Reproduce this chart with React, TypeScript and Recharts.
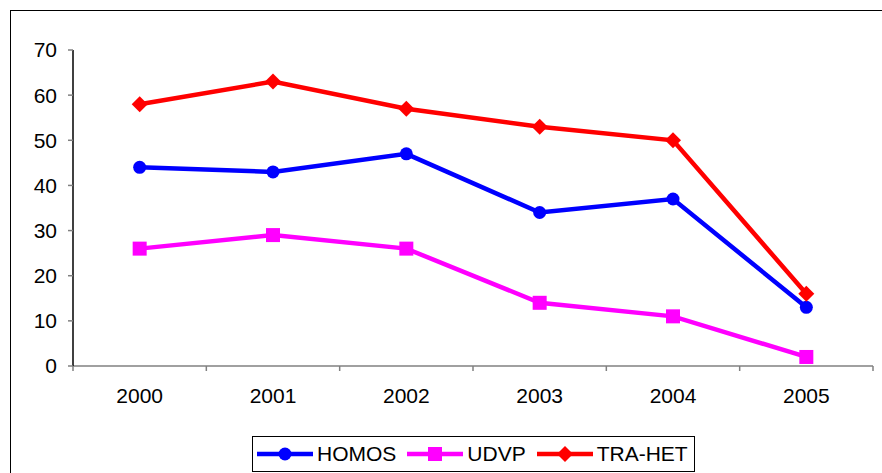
import { LineChart, Line, XAxis, YAxis } from 'recharts';

const years = ['2000', '2001', '2002', '2003', '2004', '2005'];
const homos = [44, 43, 47, 34, 37, 13];
const udvp = [26, 29, 26, 14, 11, 2];
const traHet = [58, 63, 57, 53, 50, 16];
const yTicks = [0, 10, 20, 30, 40, 50, 60, 70];

const data = years.map((y, i) => ({ year: y, homos: homos[i], udvp: udvp[i], traHet: traHet[i] }));

const FONT = 'Liberation Sans, Arial, sans-serif';

function CircleDot(props: any) {
  const { cx, cy, stroke } = props;
  if (cx == null || cy == null) return null;
  return <circle cx={cx} cy={cy} r={6.5} fill={stroke} stroke="none" />;
}

function SquareDot(props: any) {
  const { cx, cy, stroke } = props;
  if (cx == null || cy == null) return null;
  return <rect x={cx - 7} y={cy - 7} width={14} height={14} fill={stroke} />;
}

function DiamondDot(props: any) {
  const { cx, cy, stroke } = props;
  if (cx == null || cy == null) return null;
  const s = 8;
  return <polygon points={`${cx},${cy - s} ${cx + s},${cy} ${cx},${cy + s} ${cx - s},${cy}`} fill={stroke} />;
}

const series = [
  { key: 'homos', name: 'HOMOS', color: '#0000ff', Dot: CircleDot },
  { key: 'udvp', name: 'UDVP', color: '#ff00ff', Dot: SquareDot },
  { key: 'traHet', name: 'TRA-HET', color: '#ff0000', Dot: DiamondDot },
];

// category label plus tick marks on the band edges (Excel style)
function YearTick(props: any) {
  const { x, y, payload, index } = props;
  const half = payload?.offset || 800 / 12;
  const axisY = y - 8;
  const last = index === years.length - 1;
  return (
    <g>
      <line x1={x - half} y1={axisY} x2={x - half} y2={axisY + 5} stroke="#808080" strokeWidth={1.5} />
      {last && <line x1={x + half} y1={axisY} x2={x + half} y2={axisY + 5} stroke="#808080" strokeWidth={1.5} />}
      <text x={x} y={y + 14} dy="0.71em" textAnchor="middle" fill="#000" fontSize={21} fontFamily={FONT}>
        {payload.value}
      </text>
    </g>
  );
}

function LegendBox() {
  return (
    <div
      style={{
        position: 'absolute',
        left: 252,
        top: 436,
        display: 'flex',
        alignItems: 'center',
        border: '1.5px solid #000',
        height: 36,
        width: 443,
        boxSizing: 'border-box',
        padding: '0 0 0 4px',
        fontFamily: FONT,
        fontSize: 21,
        color: '#000',
        background: '#fff',
        whiteSpace: 'nowrap',
      }}
    >
      {series.map(s => (
        <div key={s.key} style={{ display: 'flex', alignItems: 'center', marginRight: 11 }}>
          <svg width={57} height={18}>
            <line x1={0} y1={9} x2={56} y2={9} stroke={s.color} strokeWidth={4.5} />
            <s.Dot cx={28} cy={9} stroke={s.color} />
          </svg>
          <span style={{ marginLeft: 3 }}>{s.name}</span>
        </div>
      ))}
    </div>
  );
}

export default function App() {
  return (
    <div style={{ position: 'absolute', left: 0, top: 0, width: 882, height: 473, background: '#fff', overflow: 'hidden' }}>
      <div
        style={{
          position: 'absolute',
          left: 10,
          top: 10,
          width: 900,
          height: 500,
          border: '1.5px solid #000',
          boxSizing: 'border-box',
        }}
      />
      <LineChart
        width={882}
        height={473}
        data={data}
        margin={{ top: 50, right: 9, left: 10, bottom: 77 }}
        style={{ position: 'absolute', left: 0, top: 0 }}
      >
        <XAxis
          dataKey="year"
          scale="band"
          tickLine={false}
          axisLine={{ stroke: '#808080', strokeWidth: 1.5 }}
          tick={<YearTick />}
          height={30}
          interval={0}
        />
        <YAxis
          domain={[0, 70]}
          ticks={yTicks}
          interval={0}
          width={63}
          axisLine={{ stroke: '#000', strokeWidth: 1.5 }}
          tickLine={{ stroke: '#808080', strokeWidth: 1.5 }}
          tickSize={5}
          tickMargin={11}
          tick={{ fontSize: 21, fill: '#000', fontFamily: FONT }}
        />
        {series.map(s => (
          <Line
            key={s.key}
            dataKey={s.key}
            name={s.name}
            stroke={s.color}
            strokeWidth={4.5}
            isAnimationActive={false}
            dot={(p: any) => <s.Dot key={`${s.key}-${p.index}`} {...p} />}
            activeDot={false}
          />
        ))}
      </LineChart>
      <LegendBox />
    </div>
  );
}
